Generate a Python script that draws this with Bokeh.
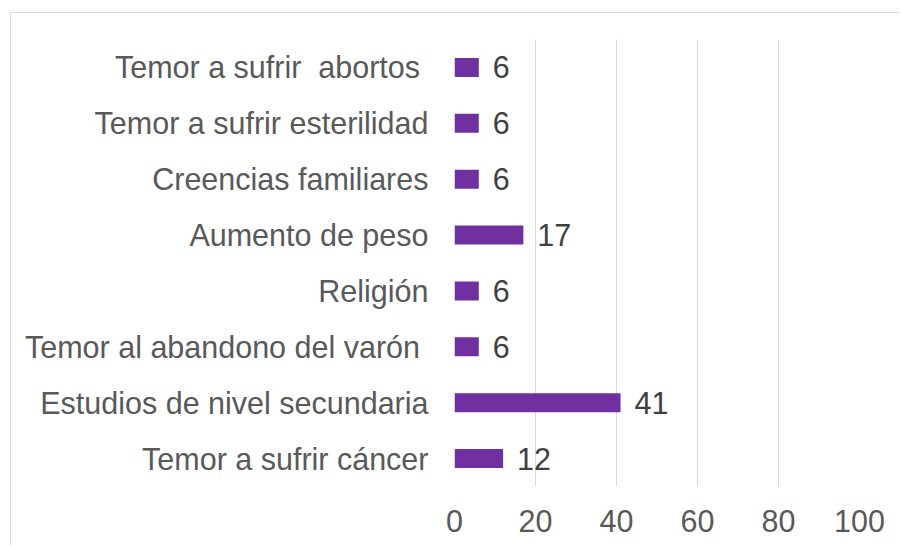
from bokeh.plotting import figure
from bokeh.models import ColumnDataSource, FactorRange, Range1d, FixedTicker
from bokeh.core.properties import value
from bokeh.embed import file_html
from bokeh.resources import INLINE

categories = [
    "Temor a sufrir \u00a0abortos\u00a0",
    "Temor a sufrir esterilidad",
    "Creencias familiares",
    "Aumento de peso",
    "Religión",
    "Temor al abandono del varón\u00a0",
    "Estudios de nivel secundaria",
    "Temor a sufrir cáncer",
]
values = [6, 6, 6, 17, 6, 6, 41, 12]
x_ticks = [0, 20, 40, 60, 80, 100]

FONT = "Liberation Sans"
src = ColumnDataSource(dict(cat=categories, val=values, lab=[str(v) for v in values]))

p = figure(
    width=889, height=533,
    y_range=FactorRange(*list(reversed(categories))),
    x_range=Range1d(0, 100),
    output_backend="svg", toolbar_location=None,
    min_border_left=443, min_border_right=41, min_border_top=26, min_border_bottom=60,
)
p.styles = {"margin-left": "10px", "margin-top": "12px",
            "border-left": "1px solid #d9d9d9", "border-top": "1px solid #d9d9d9"}

p.hbar(y="cat", right="val", left=0, height=0.34, source=src,
       fill_color="#7030A0", line_color=None)
p.text(x="val", y="cat", text="lab", source=src, x_offset=14,
       text_baseline="middle", text_align="left",
       text_font=value(FONT), text_font_size="30.5px", text_color="#404040")

p.outline_line_color = None
p.ygrid.grid_line_color = None
p.xgrid.grid_line_color = "#d9d9d9"
p.xgrid.grid_line_width = 1
p.xaxis.ticker = FixedTicker(ticks=x_ticks)

for ax in (p.xaxis, p.yaxis):
    ax.axis_line_color = None
    ax.major_tick_line_color = None
    ax.minor_tick_line_color = None
    ax.major_label_text_font = FONT
    ax.major_label_text_font_size = "30.5px"
    ax.major_label_text_color = "#595959"
p.yaxis.major_label_standoff = 20
p.xaxis.major_label_standoff = 17

open("out.html", "w").write(file_html(p, INLINE))
